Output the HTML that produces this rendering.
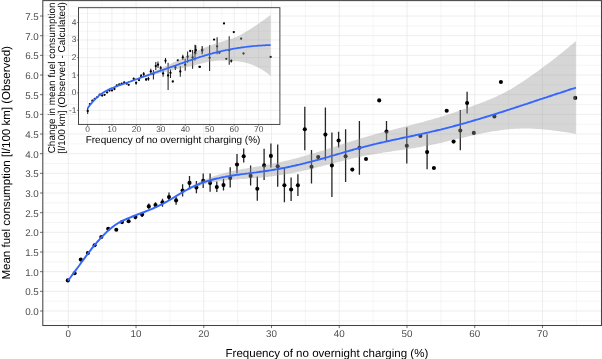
<!DOCTYPE html>
<html lang="en"><head><meta charset="utf-8"><title>Fuel consumption vs overnight charging</title>
<style>html,body{margin:0;padding:0;background:#fff}svg{display:block;will-change:transform}</style></head>
<body>
<svg width="602" height="359" viewBox="0 0 602 359" font-family="'Liberation Sans', Arial, sans-serif" text-rendering="geometricPrecision">
<rect width="602" height="359" fill="#fff"/>
<path d="M42.8 320.83H601.5M42.8 301.17H601.5M42.8 281.50H601.5M42.8 261.84H601.5M42.8 242.17H601.5M42.8 222.51H601.5M42.8 202.84H601.5M42.8 183.18H601.5M42.8 163.51H601.5M42.8 143.85H601.5M42.8 124.18H601.5M42.8 104.52H601.5M42.8 84.85H601.5M42.8 65.19H601.5M42.8 45.52H601.5M42.8 25.86H601.5M42.8 6.19H601.5M102.17 0.6V325.5M169.91 0.6V325.5M237.65 0.6V325.5M305.39 0.6V325.5M373.13 0.6V325.5M440.87 0.6V325.5M508.61 0.6V325.5M576.35 0.6V325.5" stroke="#e8e8e8" stroke-width="0.42" fill="none"/>
<path d="M42.8 311.00H601.5M42.8 291.33H601.5M42.8 271.67H601.5M42.8 252.00H601.5M42.8 232.34H601.5M42.8 212.68H601.5M42.8 193.01H601.5M42.8 173.34H601.5M42.8 153.68H601.5M42.8 134.02H601.5M42.8 114.35H601.5M42.8 94.69H601.5M42.8 75.02H601.5M42.8 55.36H601.5M42.8 35.69H601.5M42.8 16.03H601.5M68.30 0.6V325.5M136.04 0.6V325.5M203.78 0.6V325.5M271.52 0.6V325.5M339.26 0.6V325.5M407.00 0.6V325.5M474.74 0.6V325.5M542.48 0.6V325.5" stroke="#e8e8e8" stroke-width="0.78" fill="none"/>
<path d="M122.0 220.3V223.9M128.6 219.5V223.1M135.4 215.0V219.2M142.1 212.2V217.0M148.8 203.4V208.8M155.5 202.2V207.6M162.5 198.7V206.8M169.0 192.5V200.0M176.1 196.7V204.7M182.6 184.3V196.6M189.5 175.9V189.3M196.4 180.9V193.2M203.2 173.4V188.1M210.1 173.4V191.8M216.8 181.4V192.1M223.5 178.8V190.6M230.2 167.2V187.6M237.0 154.0V173.4M243.7 148.5V162.5M250.6 165.6V185.5M257.3 176.4V200.7M264.1 148.8V180.1M270.9 143.4V167.6M277.7 144.6V186.8M284.4 167.6V202.2M291.1 177.6V200.9M297.9 174.3V195.9M304.8 106.7V150.3M311.5 150.0V183.4M325.4 107.6V160.4M331.9 132.6V197.0M338.6 131.8V147.6M345.6 129.3V182.0M359.4 120.9V174.8M386.5 120.9V141.8M406.8 127.5V163.5M427.1 134.2V169.3M460.3 110.0V150.2M467.1 91.7V113.5" stroke="#262626" stroke-width="1.3" fill="none"/>
<g fill="#000"><circle cx="67.8" cy="280.4" r="2.05"/><circle cx="74.6" cy="273.2" r="2.05"/><circle cx="80.8" cy="259.6" r="2.05"/><circle cx="87.9" cy="253.1" r="2.05"/><circle cx="94.6" cy="245.2" r="2.05"/><circle cx="101.3" cy="237.0" r="2.05"/><circle cx="108.2" cy="228.7" r="2.05"/><circle cx="116.3" cy="229.7" r="2.05"/><circle cx="122.0" cy="222.1" r="2.05"/><circle cx="128.6" cy="221.3" r="2.05"/><circle cx="135.4" cy="217.1" r="2.05"/><circle cx="142.1" cy="214.6" r="2.05"/><circle cx="148.8" cy="206.4" r="2.05"/><circle cx="155.5" cy="205.1" r="2.05"/><circle cx="162.5" cy="202.2" r="2.05"/><circle cx="169.0" cy="197.1" r="2.05"/><circle cx="176.1" cy="200.4" r="2.05"/><circle cx="182.6" cy="190.5" r="2.05"/><circle cx="189.5" cy="182.9" r="2.05"/><circle cx="196.4" cy="187.6" r="2.05"/><circle cx="203.2" cy="180.9" r="2.05"/><circle cx="210.1" cy="182.9" r="2.05"/><circle cx="216.8" cy="187.1" r="2.05"/><circle cx="223.5" cy="185.1" r="2.05"/><circle cx="230.2" cy="177.9" r="2.05"/><circle cx="237.0" cy="164.5" r="2.05"/><circle cx="243.7" cy="156.2" r="2.05"/><circle cx="250.6" cy="175.9" r="2.05"/><circle cx="257.3" cy="188.8" r="2.05"/><circle cx="264.1" cy="165.4" r="2.05"/><circle cx="270.9" cy="155.9" r="2.05"/><circle cx="277.7" cy="166.3" r="2.05"/><circle cx="284.4" cy="185.3" r="2.05"/><circle cx="291.1" cy="189.5" r="2.05"/><circle cx="297.9" cy="185.3" r="2.05"/><circle cx="304.8" cy="129.3" r="2.05"/><circle cx="311.5" cy="166.8" r="2.05"/><circle cx="318.2" cy="157.1" r="2.05"/><circle cx="325.4" cy="134.6" r="2.05"/><circle cx="331.9" cy="165.4" r="2.05"/><circle cx="338.6" cy="140.5" r="2.05"/><circle cx="345.6" cy="156.2" r="2.05"/><circle cx="352.3" cy="169.6" r="2.05"/><circle cx="359.4" cy="147.7" r="2.05"/><circle cx="366.0" cy="159.0" r="2.05"/><circle cx="379.2" cy="100.4" r="2.05"/><circle cx="386.5" cy="131.6" r="2.05"/><circle cx="406.8" cy="145.8" r="2.05"/><circle cx="420.4" cy="135.9" r="2.05"/><circle cx="427.1" cy="152.1" r="2.05"/><circle cx="433.9" cy="168.0" r="2.05"/><circle cx="446.7" cy="110.8" r="2.05"/><circle cx="453.6" cy="141.6" r="2.05"/><circle cx="460.3" cy="130.6" r="2.05"/><circle cx="467.1" cy="103.0" r="2.05"/><circle cx="473.8" cy="132.9" r="2.05"/><circle cx="494.4" cy="116.4" r="2.05"/><circle cx="500.9" cy="82.0" r="2.05"/><circle cx="575.2" cy="97.9" r="2.05"/></g>
<polygon points="67.8,279.9 69.8,277.4 71.7,274.7 73.7,272.1 75.6,269.3 77.6,266.6 79.6,263.8 81.5,261.0 83.5,258.3 85.5,255.6 87.4,252.9 89.4,250.3 91.3,247.7 93.3,245.3 95.3,242.9 97.2,240.6 99.2,238.3 101.2,236.2 103.1,234.1 105.1,232.2 107.0,230.3 109.0,228.6 111.0,226.9 112.9,225.4 114.9,224.0 116.8,222.7 118.8,221.6 120.8,220.5 122.7,219.5 124.7,218.6 126.7,217.8 128.6,217.0 130.6,216.2 132.5,215.5 134.5,214.8 136.5,214.0 138.4,213.3 140.4,212.6 142.3,211.9 144.3,211.2 146.3,210.4 148.2,209.7 150.2,208.9 152.2,208.1 154.1,207.3 156.1,206.4 158.0,205.5 160.0,204.6 162.0,203.6 163.9,202.5 165.9,201.4 167.9,200.3 169.8,199.1 171.8,197.9 173.7,196.7 175.7,195.5 177.7,194.2 179.6,193.0 181.6,191.8 183.5,190.6 185.5,189.4 187.5,188.2 189.4,187.1 191.4,186.0 193.4,185.0 195.3,183.9 197.3,183.0 199.2,182.0 201.2,181.2 203.2,180.3 205.1,179.5 207.1,178.7 209.0,177.9 211.0,177.2 213.0,176.5 214.9,175.8 216.9,175.2 218.9,174.6 220.8,174.0 222.8,173.4 224.7,172.9 226.7,172.4 228.7,171.9 230.6,171.4 232.6,171.0 234.6,170.6 236.5,170.2 238.5,169.8 240.4,169.4 242.4,169.1 244.4,168.7 246.3,168.4 248.3,168.1 250.2,167.7 252.2,167.4 254.2,167.1 256.1,166.7 258.1,166.4 260.1,166.1 262.0,165.7 264.0,165.4 265.9,165.0 267.9,164.6 269.9,164.2 271.8,163.8 273.8,163.4 275.7,163.0 277.7,162.6 279.7,162.2 281.6,161.7 283.6,161.3 285.6,160.8 287.5,160.4 289.5,159.9 291.4,159.4 293.4,158.9 295.4,158.4 297.3,157.9 299.3,157.4 301.3,156.8 303.2,156.3 305.2,155.8 307.1,155.2 309.1,154.6 311.1,154.1 313.0,153.5 315.0,152.9 316.9,152.3 318.9,151.7 320.9,151.1 322.8,150.5 324.8,149.9 326.8,149.2 328.7,148.6 330.7,148.0 332.6,147.4 334.6,146.7 336.6,146.1 338.5,145.5 340.5,144.8 342.4,144.2 344.4,143.6 346.4,142.9 348.3,142.3 350.3,141.7 352.3,141.1 354.2,140.4 356.2,139.8 358.1,139.2 360.1,138.6 362.1,138.0 364.0,137.5 366.0,136.9 368.0,136.3 369.9,135.8 371.9,135.2 373.8,134.7 375.8,134.1 377.8,133.6 379.7,133.1 381.7,132.5 383.6,132.0 385.6,131.5 387.6,131.0 389.5,130.5 391.5,130.0 393.5,129.5 395.4,129.0 397.4,128.5 399.3,128.0 401.3,127.5 403.3,127.0 405.2,126.5 407.2,126.0 409.1,125.5 411.1,125.0 413.1,124.5 415.0,124.0 417.0,123.5 419.0,123.0 420.9,122.4 422.9,121.9 424.8,121.4 426.8,120.8 428.8,120.3 430.7,119.7 432.7,119.2 434.7,118.6 436.6,118.1 438.6,117.5 440.5,116.9 442.5,116.3 444.5,115.7 446.4,115.1 448.4,114.4 450.3,113.8 452.3,113.2 454.3,112.5 456.2,111.8 458.2,111.2 460.2,110.5 462.1,109.8 464.1,109.1 466.0,108.4 468.0,107.7 470.0,107.0 471.9,106.3 473.9,105.6 475.8,104.9 477.8,104.1 479.8,103.4 481.7,102.6 483.7,101.9 485.7,101.1 487.6,100.3 489.6,99.5 491.5,98.7 493.5,97.8 495.5,96.9 497.4,96.0 499.4,95.1 501.4,94.2 503.3,93.2 505.3,92.2 507.2,91.1 509.2,90.0 511.2,88.9 513.1,87.8 515.1,86.6 517.0,85.3 519.0,84.1 521.0,82.8 522.9,81.5 524.9,80.2 526.9,78.8 528.8,77.5 530.8,76.1 532.7,74.7 534.7,73.3 536.7,71.9 538.6,70.5 540.6,69.0 542.5,67.6 544.5,66.1 546.5,64.7 548.4,63.2 550.4,61.7 552.4,60.2 554.3,58.7 556.3,57.2 558.2,55.6 560.2,54.1 562.2,52.5 564.1,50.9 566.1,49.3 568.1,47.7 570.0,46.1 572.0,44.4 573.9,42.7 575.9,41.0 575.9,133.9 573.9,133.6 572.0,133.2 570.0,132.9 568.1,132.6 566.1,132.3 564.1,132.0 562.2,131.7 560.2,131.4 558.2,131.1 556.3,130.9 554.3,130.6 552.4,130.4 550.4,130.1 548.4,129.9 546.5,129.7 544.5,129.5 542.5,129.3 540.6,129.2 538.6,129.0 536.7,128.9 534.7,128.8 532.7,128.7 530.8,128.6 528.8,128.6 526.9,128.6 524.9,128.6 522.9,128.6 521.0,128.6 519.0,128.7 517.0,128.7 515.1,128.8 513.1,128.9 511.2,129.1 509.2,129.3 507.2,129.4 505.3,129.6 503.3,129.9 501.4,130.1 499.4,130.4 497.4,130.7 495.5,131.0 493.5,131.3 491.5,131.6 489.6,132.0 487.6,132.3 485.7,132.7 483.7,133.1 481.7,133.5 479.8,133.9 477.8,134.3 475.8,134.7 473.9,135.2 471.9,135.6 470.0,136.1 468.0,136.5 466.0,137.0 464.1,137.4 462.1,137.9 460.2,138.3 458.2,138.8 456.2,139.3 454.3,139.7 452.3,140.2 450.3,140.6 448.4,141.1 446.4,141.6 444.5,142.0 442.5,142.5 440.5,142.9 438.6,143.3 436.6,143.8 434.7,144.2 432.7,144.6 430.7,145.0 428.8,145.4 426.8,145.8 424.8,146.1 422.9,146.5 420.9,146.9 419.0,147.2 417.0,147.5 415.0,147.9 413.1,148.2 411.1,148.5 409.1,148.8 407.2,149.1 405.2,149.4 403.3,149.7 401.3,150.0 399.3,150.3 397.4,150.6 395.4,150.8 393.5,151.1 391.5,151.4 389.5,151.7 387.6,152.0 385.6,152.3 383.6,152.6 381.7,152.9 379.7,153.2 377.8,153.5 375.8,153.9 373.8,154.2 371.9,154.5 369.9,154.9 368.0,155.3 366.0,155.6 364.0,156.0 362.1,156.4 360.1,156.8 358.1,157.2 356.2,157.7 354.2,158.1 352.3,158.6 350.3,159.0 348.3,159.5 346.4,160.0 344.4,160.5 342.4,161.0 340.5,161.5 338.5,162.0 336.6,162.5 334.6,163.0 332.6,163.5 330.7,164.0 328.7,164.5 326.8,165.0 324.8,165.5 322.8,166.0 320.9,166.5 318.9,167.0 316.9,167.5 315.0,168.0 313.0,168.5 311.1,169.0 309.1,169.4 307.1,169.9 305.2,170.3 303.2,170.8 301.3,171.2 299.3,171.6 297.3,172.0 295.4,172.4 293.4,172.8 291.4,173.2 289.5,173.6 287.5,173.9 285.6,174.3 283.6,174.6 281.6,174.9 279.7,175.2 277.7,175.6 275.7,175.8 273.8,176.1 271.8,176.4 269.9,176.6 267.9,176.9 265.9,177.1 264.0,177.3 262.0,177.5 260.1,177.7 258.1,177.8 256.1,178.0 254.2,178.2 252.2,178.3 250.2,178.5 248.3,178.6 246.3,178.7 244.4,178.9 242.4,179.0 240.4,179.1 238.5,179.3 236.5,179.4 234.6,179.6 232.6,179.7 230.6,179.9 228.7,180.1 226.7,180.3 224.7,180.5 222.8,180.7 220.8,181.0 218.9,181.3 216.9,181.6 214.9,181.9 213.0,182.3 211.0,182.7 209.0,183.1 207.1,183.6 205.1,184.1 203.2,184.7 201.2,185.3 199.2,185.9 197.3,186.6 195.3,187.3 193.4,188.1 191.4,189.0 189.4,189.9 187.5,190.8 185.5,191.8 183.5,192.9 181.6,193.9 179.6,195.0 177.7,196.2 175.7,197.3 173.7,198.4 171.8,199.6 169.8,200.7 167.9,201.8 165.9,202.9 163.9,204.0 162.0,205.0 160.0,205.9 158.0,206.9 156.1,207.8 154.1,208.6 152.2,209.5 150.2,210.3 148.2,211.1 146.3,211.8 144.3,212.6 142.3,213.3 140.4,214.1 138.4,214.9 136.5,215.6 134.5,216.4 132.5,217.1 130.6,217.9 128.6,218.8 126.7,219.6 124.7,220.5 122.7,221.4 120.8,222.4 118.8,223.5 116.8,224.7 114.9,226.1 112.9,227.5 111.0,229.1 109.0,230.8 107.0,232.6 105.1,234.4 103.1,236.4 101.2,238.5 99.2,240.6 97.2,242.9 95.3,245.2 93.3,247.6 91.3,250.1 89.4,252.6 87.4,255.2 85.5,257.8 83.5,260.5 81.5,263.2 79.6,265.9 77.6,268.6 75.6,271.3 73.7,274.0 71.7,276.6 69.8,279.1 67.8,281.6" fill="#999" fill-opacity="0.4"/>
<polyline points="67.8,280.7 69.8,278.3 71.7,275.7 73.7,273.1 75.6,270.4 77.6,267.7 79.6,265.0 81.5,262.3 83.5,259.6 85.5,256.9 87.4,254.3 89.4,251.7 91.3,249.1 93.3,246.7 95.3,244.3 97.2,242.0 99.2,239.8 101.2,237.6 103.1,235.6 105.1,233.6 107.0,231.7 109.0,229.9 111.0,228.3 112.9,226.7 114.9,225.3 116.8,224.0 118.8,222.8 120.8,221.7 122.7,220.7 124.7,219.8 126.7,218.9 128.6,218.1 130.6,217.3 132.5,216.5 134.5,215.7 136.5,215.0 138.4,214.2 140.4,213.5 142.3,212.7 144.3,212.0 146.3,211.2 148.2,210.4 150.2,209.6 152.2,208.8 154.1,208.0 156.1,207.1 158.0,206.2 160.0,205.2 162.0,204.3 163.9,203.2 165.9,202.1 167.9,201.0 169.8,199.9 171.8,198.7 173.7,197.5 175.7,196.3 177.7,195.1 179.6,194.0 181.6,192.8 183.5,191.6 185.5,190.5 187.5,189.5 189.4,188.4 191.4,187.4 193.4,186.5 195.3,185.6 197.3,184.8 199.2,184.0 201.2,183.2 203.2,182.5 205.1,181.8 207.1,181.2 209.0,180.6 211.0,180.0 213.0,179.5 214.9,179.0 216.9,178.5 218.9,178.1 220.8,177.6 222.8,177.2 224.7,176.9 226.7,176.5 228.7,176.2 230.6,175.8 232.6,175.5 234.6,175.2 236.5,174.9 238.5,174.7 240.4,174.4 242.4,174.1 244.4,173.9 246.3,173.6 248.3,173.4 250.2,173.1 252.2,172.9 254.2,172.6 256.1,172.4 258.1,172.1 260.1,171.8 262.0,171.6 264.0,171.3 265.9,171.0 267.9,170.7 269.9,170.4 271.8,170.1 273.8,169.8 275.7,169.4 277.7,169.1 279.7,168.7 281.6,168.3 283.6,168.0 285.6,167.6 287.5,167.2 289.5,166.8 291.4,166.3 293.4,165.9 295.4,165.5 297.3,165.0 299.3,164.6 301.3,164.1 303.2,163.6 305.2,163.2 307.1,162.7 309.1,162.2 311.1,161.7 313.0,161.1 315.0,160.6 316.9,160.1 318.9,159.6 320.9,159.0 322.8,158.5 324.8,157.9 326.8,157.3 328.7,156.8 330.7,156.2 332.6,155.6 334.6,155.1 336.6,154.5 338.5,153.9 340.5,153.4 342.4,152.8 344.4,152.2 346.4,151.7 348.3,151.1 350.3,150.5 352.3,150.0 354.2,149.4 356.2,148.9 358.1,148.4 360.1,147.8 362.1,147.3 364.0,146.8 366.0,146.3 368.0,145.8 369.9,145.3 371.9,144.8 373.8,144.3 375.8,143.9 377.8,143.4 379.7,143.0 381.7,142.5 383.6,142.1 385.6,141.6 387.6,141.2 389.5,140.8 391.5,140.3 393.5,139.9 395.4,139.5 397.4,139.1 399.3,138.7 401.3,138.2 403.3,137.8 405.2,137.4 407.2,137.0 409.1,136.6 411.1,136.2 413.1,135.8 415.0,135.3 417.0,134.9 419.0,134.5 420.9,134.1 422.9,133.6 424.8,133.2 426.8,132.8 428.8,132.3 430.7,131.9 432.7,131.4 434.7,131.0 436.6,130.5 438.6,130.0 440.5,129.6 442.5,129.1 444.5,128.6 446.4,128.1 448.4,127.6 450.3,127.1 452.3,126.6 454.3,126.0 456.2,125.5 458.2,125.0 460.2,124.4 462.1,123.9 464.1,123.3 466.0,122.8 468.0,122.2 470.0,121.7 471.9,121.1 473.9,120.5 475.8,119.9 477.8,119.4 479.8,118.8 481.7,118.2 483.7,117.6 485.7,117.0 487.6,116.4 489.6,115.8 491.5,115.2 493.5,114.6 495.5,114.0 497.4,113.3 499.4,112.7 501.4,112.1 503.3,111.5 505.3,110.8 507.2,110.2 509.2,109.6 511.2,108.9 513.1,108.3 515.1,107.7 517.0,107.0 519.0,106.4 521.0,105.7 522.9,105.1 524.9,104.4 526.9,103.8 528.8,103.1 530.8,102.5 532.7,101.9 534.7,101.2 536.7,100.5 538.6,99.9 540.6,99.2 542.5,98.6 544.5,97.9 546.5,97.3 548.4,96.6 550.4,96.0 552.4,95.3 554.3,94.7 556.3,94.0 558.2,93.4 560.2,92.8 562.2,92.1 564.1,91.5 566.1,90.8 568.1,90.2 570.0,89.5 572.0,88.9 573.9,88.3 575.9,87.6" fill="none" stroke="#3366ff" stroke-width="1.9" stroke-linejoin="round"/>
<rect x="42.8" y="0.6" width="558.7" height="324.9" fill="none" stroke="#444" stroke-width="1.05"/>
<path d="M40.0 311.00H42.8M40.0 291.33H42.8M40.0 271.67H42.8M40.0 252.00H42.8M40.0 232.34H42.8M40.0 212.68H42.8M40.0 193.01H42.8M40.0 173.34H42.8M40.0 153.68H42.8M40.0 134.02H42.8M40.0 114.35H42.8M40.0 94.69H42.8M40.0 75.02H42.8M40.0 55.36H42.8M40.0 35.69H42.8M40.0 16.03H42.8M68.30 325.5V328.1M136.04 325.5V328.1M203.78 325.5V328.1M271.52 325.5V328.1M339.26 325.5V328.1M407.00 325.5V328.1M474.74 325.5V328.1M542.48 325.5V328.1" stroke="#333" stroke-width="0.7" fill="none"/>
<g font-size="9.8" fill="#4d4d4d">
<text x="38.8" y="314.90" text-anchor="end">0.0</text>
<text x="38.8" y="295.23" text-anchor="end">0.5</text>
<text x="38.8" y="275.57" text-anchor="end">1.0</text>
<text x="38.8" y="255.91" text-anchor="end">1.5</text>
<text x="38.8" y="236.24" text-anchor="end">2.0</text>
<text x="38.8" y="216.58" text-anchor="end">2.5</text>
<text x="38.8" y="196.91" text-anchor="end">3.0</text>
<text x="38.8" y="177.25" text-anchor="end">3.5</text>
<text x="38.8" y="157.58" text-anchor="end">4.0</text>
<text x="38.8" y="137.92" text-anchor="end">4.5</text>
<text x="38.8" y="118.25" text-anchor="end">5.0</text>
<text x="38.8" y="98.59" text-anchor="end">5.5</text>
<text x="38.8" y="78.92" text-anchor="end">6.0</text>
<text x="38.8" y="59.26" text-anchor="end">6.5</text>
<text x="38.8" y="39.59" text-anchor="end">7.0</text>
<text x="38.8" y="19.93" text-anchor="end">7.5</text>
<text x="68.30" y="337.3" text-anchor="middle">0</text>
<text x="136.04" y="337.3" text-anchor="middle">10</text>
<text x="203.78" y="337.3" text-anchor="middle">20</text>
<text x="271.52" y="337.3" text-anchor="middle">30</text>
<text x="339.26" y="337.3" text-anchor="middle">40</text>
<text x="407.00" y="337.3" text-anchor="middle">50</text>
<text x="474.74" y="337.3" text-anchor="middle">60</text>
<text x="542.48" y="337.3" text-anchor="middle">70</text>
</g>
<text x="326.9" y="356.7" font-size="11.55" text-anchor="middle" fill="#000">Frequency of no overnight charging (%)</text>
<text transform="translate(9.6 162.8) rotate(-90)" font-size="11.55" text-anchor="middle" fill="#000">Mean fuel consumption [l/100 km] (Observed)</text>
<rect x="78.5" y="7.7" width="201.39999999999998" height="116.7" fill="#fff"/>
<path d="M78.5 119.20H279.9M78.5 101.60H279.9M78.5 84.00H279.9M78.5 66.40H279.9M78.5 48.80H279.9M78.5 31.20H279.9M78.5 13.60H279.9M99.72 7.7V124.4M124.17 7.7V124.4M148.62 7.7V124.4M173.07 7.7V124.4M197.52 7.7V124.4M221.97 7.7V124.4M246.42 7.7V124.4M270.88 7.7V124.4" stroke="#e6e6e6" stroke-width="0.4" fill="none"/>
<path d="M78.5 110.40H279.9M78.5 92.80H279.9M78.5 75.20H279.9M78.5 57.60H279.9M78.5 40.00H279.9M78.5 22.40H279.9M87.50 7.7V124.4M111.95 7.7V124.4M136.40 7.7V124.4M160.85 7.7V124.4M185.30 7.7V124.4M209.75 7.7V124.4M234.20 7.7V124.4M258.65 7.7V124.4" stroke="#e6e6e6" stroke-width="0.7" fill="none"/>
<path d="M133.7 77.5V80.1M136.1 81.5V84.8M141.1 74.1V78.1M143.7 72.1V76.8M146.1 78.1V80.8M148.4 76.8V80.8M150.8 68.8V74.1M153.4 70.1V79.5M155.8 62.1V70.1M158.0 61.4V68.1M160.7 66.1V70.8M163.1 70.8V76.8M165.5 58.1V63.4M168.1 62.7V90.0M170.5 69.4V78.1M175.4 65.4V70.1M180.3 66.1V76.8M182.8 54.7V60.1M185.2 58.7V70.8M187.6 51.4V62.7M192.6 50.0V68.8M195.0 44.7V60.7M202.3 46.7V54.0M202.1 46.0V54.3M209.6 45.3V70.9M217.1 37.3V54.3M229.2 36.2V64.8M231.3 59.3V62.6M195.8 45.3V54.3M87.7 108.0V114.0" stroke="#222" stroke-width="1.05" fill="none"/>
<g fill="#000"><circle cx="128.7" cy="84.8" r="1.15"/><circle cx="133.7" cy="78.8" r="1.15"/><circle cx="136.1" cy="82.8" r="1.15"/><circle cx="139.0" cy="80.1" r="1.15"/><circle cx="141.1" cy="76.1" r="1.15"/><circle cx="143.7" cy="74.1" r="1.15"/><circle cx="146.1" cy="79.5" r="1.15"/><circle cx="148.4" cy="78.8" r="1.15"/><circle cx="150.8" cy="71.4" r="1.15"/><circle cx="153.4" cy="74.1" r="1.15"/><circle cx="155.8" cy="66.1" r="1.15"/><circle cx="158.0" cy="64.7" r="1.15"/><circle cx="160.7" cy="68.1" r="1.15"/><circle cx="163.1" cy="73.4" r="1.15"/><circle cx="165.5" cy="60.7" r="1.15"/><circle cx="168.1" cy="75.5" r="1.15"/><circle cx="170.5" cy="72.8" r="1.15"/><circle cx="172.8" cy="81.5" r="1.15"/><circle cx="175.4" cy="67.4" r="1.15"/><circle cx="177.8" cy="60.3" r="1.15"/><circle cx="180.3" cy="71.4" r="1.15"/><circle cx="182.8" cy="57.4" r="1.15"/><circle cx="185.2" cy="64.7" r="1.15"/><circle cx="187.6" cy="56.7" r="1.15"/><circle cx="190.2" cy="51.0" r="1.15"/><circle cx="192.6" cy="57.4" r="1.15"/><circle cx="195.0" cy="52.7" r="1.15"/><circle cx="199.9" cy="66.8" r="1.15"/><circle cx="202.3" cy="50.0" r="1.15"/><circle cx="224.0" cy="23.4" r="1.15"/><circle cx="233.8" cy="32.1" r="1.15"/><circle cx="241.1" cy="38.7" r="1.15"/><circle cx="214.1" cy="39.6" r="1.15"/><circle cx="199.5" cy="66.8" r="1.15"/><circle cx="202.1" cy="50.5" r="1.15"/><circle cx="209.6" cy="57.8" r="1.15"/><circle cx="217.1" cy="46.3" r="1.15"/><circle cx="219.4" cy="52.8" r="1.15"/><circle cx="226.3" cy="58.8" r="1.15"/><circle cx="229.2" cy="50.2" r="1.15"/><circle cx="231.3" cy="60.8" r="1.15"/><circle cx="243.5" cy="53.5" r="1.15"/><circle cx="270.6" cy="56.9" r="1.15"/><circle cx="195.8" cy="50.2" r="1.15"/><circle cx="87.7" cy="110.9" r="1.15"/><circle cx="89.9" cy="104.1" r="1.15"/><circle cx="92.4" cy="100.7" r="1.15"/><circle cx="94.8" cy="99.0" r="1.15"/><circle cx="97.3" cy="97.2" r="1.15"/><circle cx="99.7" cy="94.7" r="1.15"/><circle cx="102.2" cy="95.5" r="1.15"/><circle cx="104.6" cy="94.8" r="1.15"/><circle cx="107.1" cy="92.4" r="1.15"/><circle cx="109.5" cy="90.6" r="1.15"/><circle cx="112.0" cy="90.4" r="1.15"/><circle cx="114.4" cy="89.0" r="1.15"/><circle cx="116.8" cy="85.3" r="1.15"/><circle cx="119.3" cy="84.3" r="1.15"/><circle cx="121.7" cy="83.6" r="1.15"/><circle cx="124.2" cy="82.5" r="1.15"/><circle cx="126.6" cy="83.6" r="1.15"/></g>
<polygon points="87.7,107.7 88.9,106.0 90.0,104.5 91.2,103.0 92.3,101.6 93.5,100.3 94.6,99.1 95.8,97.9 96.9,96.9 98.1,95.9 99.2,94.9 100.4,94.0 101.5,93.2 102.7,92.4 103.8,91.7 105.0,91.0 106.1,90.4 107.3,89.8 108.4,89.2 109.6,88.6 110.7,88.1 111.9,87.6 113.0,87.2 114.2,86.7 115.3,86.3 116.5,85.8 117.6,85.4 118.8,85.0 119.9,84.6 121.1,84.2 122.2,83.8 123.4,83.4 124.5,82.9 125.7,82.5 126.8,82.1 128.0,81.7 129.1,81.2 130.3,80.8 131.4,80.4 132.6,79.9 133.7,79.5 134.9,79.1 136.0,78.6 137.2,78.2 138.3,77.7 139.5,77.3 140.6,76.8 141.8,76.3 142.9,75.9 144.1,75.4 145.2,74.9 146.4,74.4 147.5,74.0 148.7,73.5 149.9,73.0 151.0,72.5 152.2,72.0 153.3,71.5 154.5,71.0 155.6,70.5 156.8,70.0 157.9,69.5 159.1,69.0 160.2,68.5 161.4,68.0 162.5,67.5 163.7,67.0 164.8,66.4 166.0,65.9 167.1,65.4 168.3,64.9 169.4,64.4 170.6,63.9 171.7,63.3 172.9,62.8 174.0,62.3 175.2,61.8 176.3,61.2 177.5,60.7 178.6,60.1 179.8,59.6 180.9,59.0 182.1,58.4 183.2,57.9 184.4,57.3 185.5,56.7 186.7,56.1 187.8,55.5 189.0,54.9 190.1,54.4 191.3,53.8 192.4,53.2 193.6,52.7 194.7,52.2 195.9,51.6 197.0,51.1 198.2,50.6 199.3,50.0 200.5,49.5 201.6,49.0 202.8,48.5 203.9,48.0 205.1,47.5 206.2,47.1 207.4,46.6 208.5,46.2 209.7,45.7 210.9,45.3 212.0,44.9 213.2,44.5 214.3,44.1 215.5,43.7 216.6,43.3 217.8,43.0 218.9,42.6 220.1,42.3 221.2,41.9 222.4,41.5 223.5,41.2 224.7,40.8 225.8,40.5 227.0,40.1 228.1,39.8 229.3,39.4 230.4,39.1 231.6,38.7 232.7,38.4 233.9,38.0 235.0,37.6 236.2,37.1 237.3,36.6 238.5,36.0 239.6,35.4 240.8,34.7 241.9,34.1 243.1,33.4 244.2,32.7 245.4,32.0 246.5,31.4 247.7,30.7 248.8,30.0 250.0,29.3 251.1,28.6 252.3,27.8 253.4,27.1 254.6,26.3 255.7,25.5 256.9,24.8 258.0,24.0 259.2,23.2 260.3,22.4 261.5,21.6 262.6,20.8 263.8,20.0 264.9,19.2 266.1,18.3 267.2,17.5 268.4,16.6 269.5,15.7 270.7,14.9 270.7,75.9 269.5,74.9 268.4,74.1 267.2,73.2 266.1,72.4 264.9,71.6 263.8,70.8 262.6,70.0 261.5,69.3 260.3,68.7 259.2,68.0 258.0,67.4 256.9,66.9 255.7,66.3 254.6,65.8 253.4,65.3 252.3,64.8 251.1,64.4 250.0,63.9 248.8,63.6 247.7,63.2 246.5,62.9 245.4,62.6 244.2,62.4 243.1,62.1 241.9,61.9 240.8,61.8 239.6,61.6 238.5,61.4 237.3,61.3 236.2,61.2 235.0,61.1 233.9,60.9 232.7,60.8 231.6,60.7 230.4,60.6 229.3,60.6 228.1,60.5 227.0,60.4 225.8,60.4 224.7,60.4 223.5,60.4 222.4,60.4 221.2,60.5 220.1,60.5 218.9,60.6 217.8,60.7 216.6,60.8 215.5,60.9 214.3,61.0 213.2,61.2 212.0,61.3 210.9,61.5 209.7,61.7 208.5,61.9 207.4,62.1 206.2,62.4 205.1,62.6 203.9,62.9 202.8,63.2 201.6,63.4 200.5,63.7 199.3,64.0 198.2,64.3 197.0,64.6 195.9,64.9 194.7,65.2 193.6,65.5 192.4,65.7 191.3,66.0 190.1,66.3 189.0,66.5 187.8,66.8 186.7,67.0 185.5,67.3 184.4,67.5 183.2,67.8 182.1,68.0 180.9,68.3 179.8,68.5 178.6,68.8 177.5,69.0 176.3,69.3 175.2,69.6 174.0,69.8 172.9,70.1 171.7,70.4 170.6,70.6 169.4,70.9 168.3,71.2 167.1,71.4 166.0,71.7 164.8,72.0 163.7,72.3 162.5,72.6 161.4,72.9 160.2,73.1 159.1,73.4 157.9,73.7 156.8,74.0 155.6,74.3 154.5,74.6 153.3,75.0 152.2,75.3 151.0,75.6 149.9,75.9 148.7,76.3 147.5,76.6 146.4,76.9 145.2,77.3 144.1,77.6 142.9,78.0 141.8,78.3 140.6,78.7 139.5,79.1 138.3,79.5 137.2,79.8 136.0,80.2 134.9,80.6 133.7,81.0 132.6,81.4 131.4,81.8 130.3,82.2 129.1,82.6 128.0,83.0 126.8,83.4 125.7,83.8 124.5,84.2 123.4,84.5 122.2,84.9 121.1,85.3 119.9,85.7 118.8,86.1 117.6,86.5 116.5,86.9 115.3,87.3 114.2,87.7 113.0,88.2 111.9,88.6 110.7,89.1 109.6,89.6 108.4,90.2 107.3,90.8 106.1,91.4 105.0,92.0 103.8,92.7 102.7,93.4 101.5,94.2 100.4,95.1 99.2,95.9 98.1,96.9 96.9,97.9 95.8,99.0 94.6,100.2 93.5,101.4 92.3,102.7 91.2,104.1 90.0,105.6 88.9,107.2 87.7,108.9" fill="#999" fill-opacity="0.4"/>
<polyline points="87.7,108.3 88.9,106.6 90.0,105.0 91.2,103.6 92.3,102.2 93.5,100.9 94.6,99.6 95.8,98.5 96.9,97.4 98.1,96.4 99.2,95.4 100.4,94.5 101.5,93.7 102.7,92.9 103.8,92.2 105.0,91.5 106.1,90.9 107.3,90.3 108.4,89.7 109.6,89.1 110.7,88.6 111.9,88.1 113.0,87.7 114.2,87.2 115.3,86.8 116.5,86.4 117.6,85.9 118.8,85.5 119.9,85.1 121.1,84.7 122.2,84.3 123.4,83.9 124.5,83.5 125.7,83.1 126.8,82.7 128.0,82.3 129.1,81.9 130.3,81.5 131.4,81.1 132.6,80.7 133.7,80.3 134.9,79.8 136.0,79.4 137.2,79.0 138.3,78.6 139.5,78.2 140.6,77.8 141.8,77.3 142.9,76.9 144.1,76.5 145.2,76.1 146.4,75.7 147.5,75.3 148.7,74.9 149.9,74.5 151.0,74.1 152.2,73.7 153.3,73.2 154.5,72.8 155.6,72.4 156.8,72.0 157.9,71.6 159.1,71.2 160.2,70.8 161.4,70.4 162.5,70.0 163.7,69.6 164.8,69.2 166.0,68.8 167.1,68.4 168.3,68.0 169.4,67.6 170.6,67.2 171.7,66.8 172.9,66.4 174.0,66.0 175.2,65.6 176.3,65.2 177.5,64.8 178.6,64.4 179.8,63.9 180.9,63.5 182.1,63.1 183.2,62.7 184.4,62.3 185.5,61.9 186.7,61.5 187.8,61.1 189.0,60.7 190.1,60.3 191.3,59.9 192.4,59.5 193.6,59.1 194.7,58.7 195.9,58.3 197.0,58.0 198.2,57.6 199.3,57.2 200.5,56.8 201.6,56.5 202.8,56.1 203.9,55.8 205.1,55.4 206.2,55.1 207.4,54.8 208.5,54.4 209.7,54.1 210.9,53.8 212.0,53.5 213.2,53.2 214.3,52.9 215.5,52.6 216.6,52.3 217.8,52.0 218.9,51.7 220.1,51.5 221.2,51.2 222.4,51.0 223.5,50.7 224.7,50.5 225.8,50.2 227.0,50.0 228.1,49.8 229.3,49.5 230.4,49.3 231.6,49.1 232.7,48.9 233.9,48.7 235.0,48.5 236.2,48.3 237.3,48.1 238.5,47.9 239.6,47.8 240.8,47.6 241.9,47.4 243.1,47.3 244.2,47.1 245.4,47.0 246.5,46.8 247.7,46.7 248.8,46.6 250.0,46.4 251.1,46.3 252.3,46.2 253.4,46.1 254.6,46.0 255.7,45.9 256.9,45.8 258.0,45.7 259.2,45.6 260.3,45.5 261.5,45.5 262.6,45.4 263.8,45.3 264.9,45.3 266.1,45.2 267.2,45.2 268.4,45.1 269.5,45.1 270.7,45.1" fill="none" stroke="#3366ff" stroke-width="1.75" stroke-linejoin="round"/>
<rect x="78.5" y="7.7" width="201.39999999999998" height="116.7" fill="none" stroke="#333" stroke-width="0.9"/>
<path d="M76.9 110.40H78.5M76.9 92.80H78.5M76.9 75.20H78.5M76.9 57.60H78.5M76.9 40.00H78.5M76.9 22.40H78.5M87.50 124.4V126.0M111.95 124.4V126.0M136.40 124.4V126.0M160.85 124.4V126.0M185.30 124.4V126.0M209.75 124.4V126.0M234.20 124.4V126.0M258.65 124.4V126.0" stroke="#333" stroke-width="0.55" fill="none"/>
<g font-size="8.4" fill="#4d4d4d">
<text x="76.5" y="112.80" text-anchor="end">-1</text>
<text x="76.5" y="95.20" text-anchor="end">0</text>
<text x="76.5" y="77.60" text-anchor="end">1</text>
<text x="76.5" y="60.00" text-anchor="end">2</text>
<text x="76.5" y="42.40" text-anchor="end">3</text>
<text x="76.5" y="24.80" text-anchor="end">4</text>
<text x="87.50" y="132.2" text-anchor="middle">0</text>
<text x="111.95" y="132.2" text-anchor="middle">10</text>
<text x="136.40" y="132.2" text-anchor="middle">20</text>
<text x="160.85" y="132.2" text-anchor="middle">30</text>
<text x="185.30" y="132.2" text-anchor="middle">40</text>
<text x="209.75" y="132.2" text-anchor="middle">50</text>
<text x="234.20" y="132.2" text-anchor="middle">60</text>
<text x="258.65" y="132.2" text-anchor="middle">70</text>
</g>
<text x="173" y="143.1" font-size="9.95" text-anchor="middle" fill="#000">Frequency of no overnight charging (%)</text>
<text transform="translate(55 77.9) rotate(-90)" font-size="9.95" text-anchor="middle" fill="#000">Change in mean fuel consumption</text>
<text transform="translate(64.6 77.9) rotate(-90)" font-size="9.95" text-anchor="middle" fill="#000">[l/100 km] (Observed - Calculated)</text>
</svg>
</body></html>
